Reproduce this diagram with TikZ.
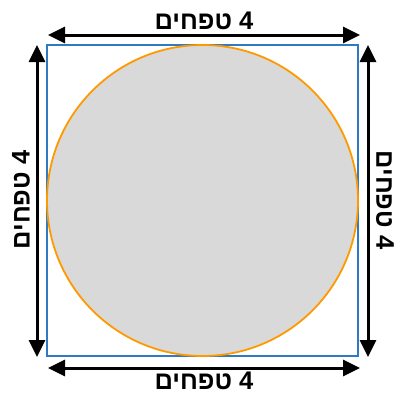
\documentclass[tikz,border=0pt]{standalone}
\usepackage{fontspec}
\setmainfont{Liberation Sans}
\newfontfamily\hebfont[Script=Hebrew]{Liberation Sans}
\usetikzlibrary{arrows.meta}
\definecolor{sqblue}{HTML}{2E7BC4}
\definecolor{circorange}{HTML}{FF9900}
\definecolor{circgray}{HTML}{D9D9D9}
\newcommand{\dimtext}{\mbox{\hebfont טפחים}\hspace{0.28em}\mbox{4}}
\tikzset{
  dim/.style={line width=3bp, {Triangle[length=17bp,width=16bp]}-{Triangle[length=17bp,width=16bp]}},
  lab/.style={font=\bfseries\fontsize{25.5bp}{29bp}\selectfont, inner sep=0pt},
}
\begin{document}
\begin{tikzpicture}[x=1bp,y=-1bp]
\useasboundingbox (0,0) rectangle (399,394);
\node[draw=sqblue, line width=1.6bp, minimum width=311bp, minimum height=311bp, inner sep=0pt] (sq) at (202.5,200.5) {};
\node[circle, draw=circorange, fill=circgray, line width=1.8bp, minimum size=311bp, inner sep=0pt] (c) at (202.5,200.5) {};
\coordinate (t1) at (48,35);
\coordinate (t2) at (360,35);
\coordinate (b1) at (48,368);
\coordinate (b2) at (360,368);
\coordinate (l1) at (37,45);
\coordinate (l2) at (37,357);
\coordinate (r1) at (368,45);
\coordinate (r2) at (368,357);
\draw[dim] (t1) -- (t2);
\draw[dim] (b1) -- (b2);
\draw[dim] (l1) -- (l2);
\draw[dim] (r1) -- (r2);
\node[lab] (lt) at (204,21) {\dimtext};
\node[lab] (lb) at (204,381) {\dimtext};
\node[lab, rotate=90] (ll) at (21,200) {\dimtext};
\node[lab, rotate=-90] (lr) at (385,200) {\dimtext};
\end{tikzpicture}
\end{document}
